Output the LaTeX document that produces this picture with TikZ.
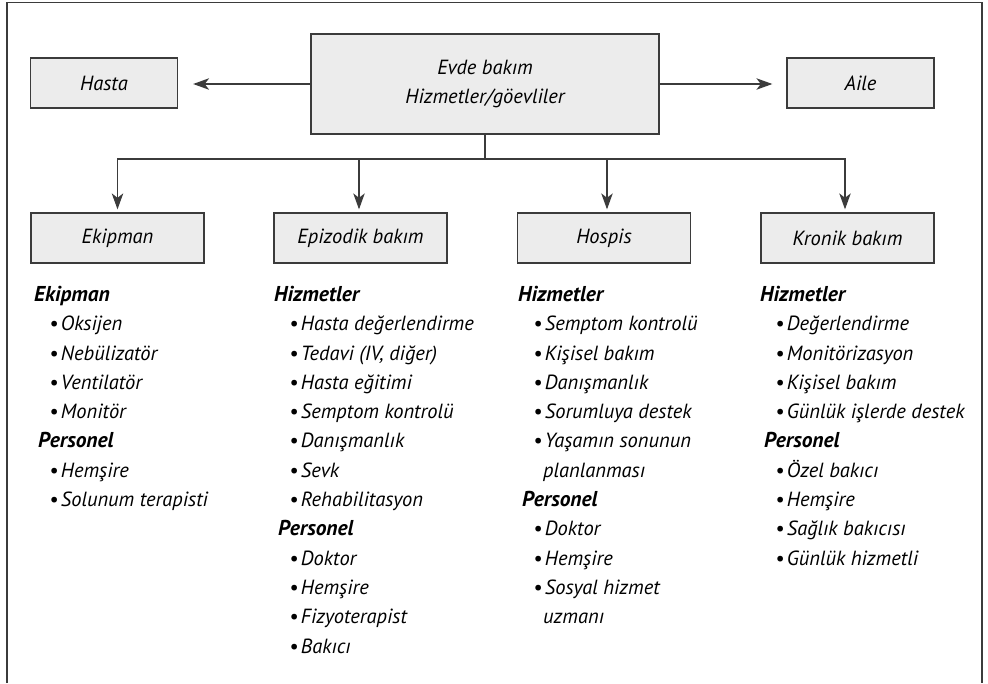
\documentclass[tikz,border=0pt]{standalone}
\usepackage{fontspec}
\setmainfont{PT Sans}
\usetikzlibrary{arrows.meta}
\definecolor{boxgray}{rgb}{0.925,0.925,0.925}
\definecolor{linegray}{rgb}{0.23,0.23,0.23}

\newcommand{\listhead}[1]{{\fontsize{21.5}{29.3}\selectfont\bfseries #1}}
\newcommand{\listitem}[1]{\hspace*{15pt}\textbullet\hspace{2.5pt}#1}

\begin{document}
\begin{tikzpicture}[
  x=1pt, y=-1pt,
  >={Stealth[length=16pt, width=11.5pt, inset=4.5pt]},
  every node/.style={font=\fontsize{20.5}{29.3}\selectfont\itshape, text=black},
  mainbox/.style={rectangle, fill=boxgray, draw=linegray, line width=1.3pt, inner sep=0pt, align=center},
  sidebox/.style={mainbox, minimum width=147pt, minimum height=50pt},
  carebox/.style={mainbox, minimum width=173pt, minimum height=50pt},
  collist/.style={anchor=north west, align=left, inner sep=0pt},
  linkedge/.style={->, line width=1.1pt, draw=linegray},
]
\useasboundingbox (0,0) rectangle (988,683);

% ---- outer frame ----
\draw[linegray, line width=1.3pt] (7,683) -- (7,2.5) -- (982,2.5) -- (982,683);

% ---- top row ----
\node[mainbox, minimum width=348pt, minimum height=100pt] (evde) at (485,84) {Evde bakım\\Hizmetler/göevliler};
\node[sidebox] (hasta) at (104,83)   {Hasta};
\node[sidebox] (aile)  at (860.5,83) {Aile};

% ---- care types ----
\node[carebox] (ekip)   at (117.5,238) {Ekipman};
\node[carebox] (epiz)   at (360.5,238) {Epizodik bakım};
\node[carebox] (hospis) at (604,238)   {Hospis};
\node[carebox] (kronik) at (847.5,238) {Kronik bakım};

% ---- edges ----
\draw[linkedge, shorten >=15pt] (evde.west) -- (evde.west -| hasta.east);
\draw[linkedge, shorten >=14pt] (evde.east) -- (evde.east -| aile.west);
\coordinate (split) at (485,159);
\draw[line width=1.1pt, linegray] (evde.south) -- (split);
\draw[linkedge, shorten >=3pt] (split) -| (ekip.north);
\draw[linkedge, shorten >=3pt] (split) -| ([xshift=-1.5pt]epiz.north);
\draw[linkedge, shorten >=3pt] (split) -| ([xshift=3pt]hospis.north);
\draw[linkedge, shorten >=3pt] (split) -| ([xshift=-2.5pt]kronik.north);

% ---- lists ----
\node[collist] (ekiplist) at (34,286) {%
  \listhead{Ekipman}\\
  \listitem{Oksijen}\\
  \listitem{Nebülizatör}\\
  \listitem{Ventilatör}\\
  \listitem{Monitör}\\
  \hspace*{4pt}\listhead{Personel}\\
  \listitem{Hemşire}\\
  \listitem{Solunum terapisti}};

\node[collist] (epizlist) at (274,286) {%
  \listhead{Hizmetler}\\
  \listitem{Hasta değerlendirme}\\
  \listitem{Tedavi (IV, diğer)}\\
  \listitem{Hasta eğitimi}\\
  \listitem{Semptom kontrolü}\\
  \listitem{Danışmanlık}\\
  \listitem{Sevk}\\
  \listitem{Rehabilitasyon}\\
  \hspace*{4pt}\listhead{Personel}\\
  \listitem{Doktor}\\
  \listitem{Hemşire}\\
  \listitem{Fizyoterapist}\\
  \listitem{Bakıcı}};

\node[collist] (hospislist) at (518,286) {%
  \listhead{Hizmetler}\\
  \listitem{Semptom kontrolü}\\
  \listitem{Kişisel bakım}\\
  \listitem{Danışmanlık}\\
  \listitem{Sorumluya destek}\\
  \listitem{Yaşamın sonunun}\\
  \hspace*{25pt}planlanması\\
  \hspace*{4pt}\listhead{Personel}\\
  \listitem{Doktor}\\
  \listitem{Hemşire}\\
  \listitem{Sosyal hizmet}\\
  \hspace*{25pt}uzmanı};

\node[collist] (kroniklist) at (760,286) {%
  \listhead{Hizmetler}\\
  \listitem{Değerlendirme}\\
  \listitem{Monitörizasyon}\\
  \listitem{Kişisel bakım}\\
  \listitem{Günlük işlerde destek}\\
  \hspace*{4pt}\listhead{Personel}\\
  \listitem{Özel bakıcı}\\
  \listitem{Hemşire}\\
  \listitem{Sağlık bakıcısı}\\
  \listitem{Günlük hizmetli}};

\end{tikzpicture}
\end{document}
